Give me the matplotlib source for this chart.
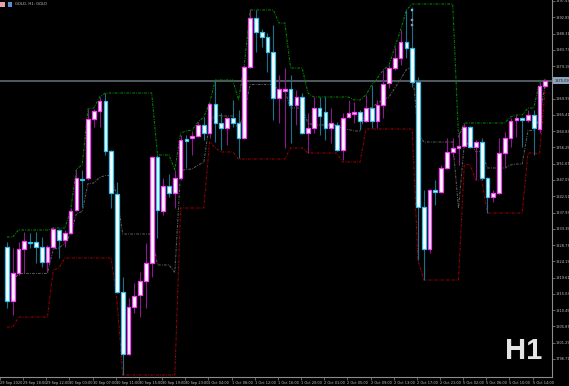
import numpy as np
import matplotlib
matplotlib.use("Agg")
import matplotlib.pyplot as plt
import matplotlib.transforms as mtransforms
from matplotlib.patches import Rectangle

# ---------------- data (GOLD, H1) ----------------
opens = [1828.23, 1813.03, 1820.91, 1827.67, 1829.64, 1829.64, 1828.23, 1824.01, 1828.23, 1833.02,
         1830.20, 1832.17, 1838.65, 1847.37, 1847.65, 1864.26, 1866.51, 1869.32, 1855.25, 1843.15,
         1815.57, 1798.12, 1811.35, 1814.72, 1818.66, 1823.73, 1853.56, 1838.36, 1845.40, 1843.43,
         1847.65, 1858.63, 1858.91, 1859.47, 1862.57, 1860.32, 1868.48, 1863.13, 1861.72, 1864.54,
         1863.13, 1858.91, 1878.89, 1892.68, 1888.74, 1887.34, 1883.11, 1870.17, 1872.14, 1872.70,
         1868.20, 1870.45, 1860.32, 1861.72, 1867.35, 1866.23, 1861.72, 1862.57, 1855.53, 1864.82,
         1865.67, 1866.23, 1863.69, 1867.35, 1863.69, 1868.20, 1874.39, 1878.61, 1881.43, 1885.93,
         1884.24, 1874.67, 1839.49, 1827.67, 1844.28, 1843.71, 1850.47, 1854.97, 1856.10, 1856.66,
         1862.01, 1856.38, 1857.79, 1847.65, 1842.30, 1843.43, 1854.69, 1858.91, 1863.98, 1864.54,
         1863.98, 1865.38, 1861.44, 1873.55]
highs = [1829.64, 1827.95, 1829.64, 1832.45, 1832.17, 1832.45, 1831.05, 1828.79, 1833.86, 1833.30,
         1833.02, 1839.21, 1850.18, 1849.90, 1867.07, 1867.07, 1870.45, 1871.57, 1855.50, 1846.53,
         1819.79, 1813.88, 1818.10, 1821.19, 1829.36, 1853.85, 1854.12, 1847.65, 1848.78, 1849.90,
         1859.75, 1859.75, 1860.88, 1863.41, 1864.82, 1868.76, 1875.23, 1865.95, 1864.82, 1869.61,
         1866.79, 1879.46, 1895.22, 1894.94, 1889.59, 1888.46, 1890.71, 1876.64, 1878.61, 1876.64,
         1872.42, 1871.57, 1865.95, 1870.45, 1870.45, 1870.45, 1867.35, 1863.41, 1865.95, 1869.61,
         1869.04, 1866.79, 1871.01, 1873.83, 1869.61, 1878.05, 1879.46, 1884.52, 1889.31, 1894.94,
         1895.78, 1876.08, 1844.28, 1844.50, 1847.09, 1851.31, 1858.91, 1858.91, 1860.60, 1863.13,
         1862.20, 1858.35, 1858.91, 1847.93, 1844.28, 1858.91, 1860.60, 1864.54, 1865.38, 1864.82,
         1866.79, 1866.79, 1874.67, 1875.52]
lows = [1811.06, 1809.09, 1820.35, 1820.91, 1827.95, 1823.73, 1822.60, 1821.19, 1827.95, 1825.13,
        1828.23, 1832.00, 1838.36, 1839.49, 1847.09, 1862.01, 1862.01, 1854.12, 1839.21, 1815.29,
        1792.21, 1797.84, 1809.66, 1808.53, 1811.06, 1819.79, 1830.77, 1837.24, 1842.30, 1839.21,
        1847.09, 1850.47, 1854.12, 1859.19, 1858.35, 1858.91, 1857.79, 1855.53, 1856.94, 1862.01,
        1853.28, 1858.70, 1878.61, 1883.11, 1884.52, 1877.49, 1863.98, 1863.13, 1856.10, 1857.50,
        1862.57, 1860.00, 1854.69, 1860.32, 1859.75, 1858.35, 1857.50, 1855.30, 1852.72, 1864.54,
        1863.13, 1861.16, 1863.41, 1861.72, 1861.72, 1864.54, 1872.98, 1878.05, 1879.46, 1881.43,
        1873.26, 1824.57, 1818.94, 1826.54, 1840.05, 1843.50, 1850.30, 1853.56, 1851.31, 1856.38,
        1856.10, 1847.09, 1847.09, 1837.80, 1840.90, 1843.20, 1850.47, 1856.38, 1859.19, 1856.38,
        1863.41, 1854.12, 1860.32, 1873.26]
closes = [1813.03, 1820.91, 1827.67, 1829.92, 1829.36, 1828.23, 1824.01, 1828.23, 1833.30, 1830.20,
          1832.17, 1838.36, 1847.65, 1847.09, 1864.26, 1866.51, 1869.32, 1855.25, 1843.43, 1815.57,
          1798.12, 1811.35, 1814.44, 1818.66, 1823.73, 1853.56, 1838.65, 1845.40, 1843.43, 1847.65,
          1858.35, 1858.07, 1859.47, 1862.57, 1860.32, 1868.48, 1863.13, 1861.72, 1864.54, 1863.13,
          1858.91, 1878.89, 1892.68, 1888.74, 1887.34, 1883.11, 1870.17, 1872.70, 1872.70, 1868.20,
          1870.45, 1860.32, 1861.72, 1867.35, 1865.10, 1861.72, 1863.13, 1855.53, 1864.54, 1865.95,
          1866.23, 1863.69, 1867.35, 1863.69, 1868.20, 1874.11, 1878.61, 1881.43, 1885.93, 1884.24,
          1874.67, 1839.49, 1827.67, 1844.28, 1843.71, 1850.47, 1854.97, 1856.10, 1856.66, 1862.01,
          1856.38, 1857.79, 1847.65, 1842.30, 1843.43, 1854.69, 1858.91, 1863.69, 1864.54, 1863.98,
          1865.38, 1861.72, 1873.55, 1875.09]

# price channel (upper / lower / middle)
upper = [1831.05, 1831.05, 1833.02, 1833.02, 1833.02, 1833.02, 1833.02, 1833.02, 1833.58, 1833.58,
         1833.58, 1838.65, 1850.18, 1851.31, 1867.07, 1867.35, 1870.45, 1871.57, 1871.57, 1871.57,
         1871.57, 1871.57, 1871.57, 1871.57, 1871.57, 1871.57, 1854.12, 1854.12, 1854.12, 1849.90,
         1860.32, 1860.88, 1861.16, 1863.41, 1864.82, 1868.76, 1875.23, 1875.23, 1875.23, 1875.23,
         1869.61, 1879.46, 1894.94, 1894.94, 1894.94, 1894.94, 1894.94, 1891.28, 1891.28, 1878.61,
         1878.61, 1878.61, 1871.57, 1870.45, 1870.45, 1870.45, 1870.45, 1870.45, 1870.45, 1870.45,
         1869.61, 1869.61, 1871.01, 1873.83, 1875.80, 1878.05, 1879.46, 1884.52, 1889.31, 1894.94,
         1896.62, 1896.62, 1896.62, 1896.62, 1896.62, 1896.62, 1896.62, 1896.62, 1859.19, 1863.13,
         1863.13, 1863.13, 1863.13, 1863.13, 1863.13, 1863.13, 1863.13, 1864.82, 1865.38, 1865.38,
         1867.35, 1867.35, 1874.67, 1875.52]
lower = [1805.72, 1805.72, 1808.53, 1808.53, 1808.53, 1808.53, 1808.53, 1808.53, 1821.76, 1822.32,
         1825.13, 1825.13, 1825.13, 1825.13, 1825.13, 1825.13, 1825.13, 1825.13, 1825.13, 1813.32,
         1792.21, 1792.21, 1792.21, 1792.21, 1792.21, 1792.21, 1792.21, 1792.21, 1792.21, 1792.21,
         1839.21, 1839.21, 1839.21, 1839.21, 1839.21, 1857.79, 1856.10, 1854.97, 1854.97, 1854.97,
         1853.00, 1853.00, 1853.00, 1853.00, 1853.00, 1853.00, 1853.00, 1853.00, 1853.00, 1856.10,
         1856.10, 1856.10, 1854.69, 1854.69, 1854.69, 1854.69, 1854.69, 1854.69, 1852.15, 1852.15,
         1852.15, 1852.15, 1861.44, 1861.44, 1861.44, 1861.44, 1861.44, 1861.44, 1861.44, 1861.44,
         1861.44, 1824.57, 1818.94, 1818.94, 1818.94, 1818.94, 1818.94, 1818.94, 1818.94, 1851.59,
         1851.31, 1847.09, 1847.09, 1837.80, 1837.80, 1837.80, 1837.80, 1837.80, 1837.80, 1837.80,
         1854.69, 1854.69, 1854.41, 1873.26]
middle = [1818.39, 1818.39, 1820.78, 1820.78, 1820.78, 1820.78, 1820.78, 1820.78, 1827.67, 1827.95,
          1829.36, 1831.89, 1837.66, 1838.22, 1846.10, 1846.24, 1847.79, 1848.35, 1848.35, 1842.45,
          1831.89, 1831.89, 1831.89, 1831.89, 1831.89, 1831.89, 1823.17, 1823.17, 1823.17, 1821.06,
          1849.77, 1850.05, 1850.19, 1851.31, 1852.02, 1863.28, 1865.67, 1865.10, 1865.10, 1865.10,
          1861.31, 1866.23, 1873.97, 1873.97, 1873.97, 1873.97, 1873.97, 1872.14, 1872.14, 1867.36,
          1867.36, 1867.36, 1863.13, 1862.57, 1862.57, 1862.57, 1862.57, 1862.57, 1861.30, 1861.30,
          1860.88, 1860.88, 1866.23, 1867.64, 1868.62, 1869.75, 1870.45, 1872.98, 1875.38, 1878.19,
          1879.03, 1860.60, 1857.78, 1857.78, 1857.78, 1857.78, 1857.78, 1857.78, 1839.07, 1857.36,
          1857.22, 1855.11, 1855.11, 1850.47, 1850.47, 1850.47, 1850.47, 1851.31, 1851.59, 1851.59,
          1861.02, 1861.02, 1864.54, 1874.39]

time_label_bars = [-1, 3, 7, 11, 15, 19, 23, 27, 31, 35, 39, 43, 47, 51, 55, 59, 63, 67, 71, 75, 79, 83, 87, 91]
time_labels = ["29 Sep 2020", "29 Sep 18:00", "29 Sep 22:00", "30 Sep 03:00", "30 Sep 07:00",
               "30 Sep 11:00", "30 Sep 15:00", "30 Sep 19:00", "30 Sep 23:00", "1 Oct 04:00",
               "1 Oct 08:00", "1 Oct 12:00", "1 Oct 16:00", "1 Oct 20:00", "2 Oct 01:00",
               "2 Oct 05:00", "2 Oct 09:00", "2 Oct 13:00", "2 Oct 17:00", "2 Oct 21:00",
               "5 Oct 02:00", "5 Oct 06:00", "5 Oct 10:00", "5 Oct 14:00"]
price_ticks = [1897.47, 1892.89, 1888.31, 1883.73, 1879.15, 1874.57, 1869.99, 1865.41, 1860.83,
               1856.25, 1851.67, 1847.09, 1842.51, 1837.93, 1833.35, 1828.77, 1824.19, 1819.61,
               1815.03, 1810.45, 1805.87, 1801.29, 1796.71]
signal_bars = [70, 70, 70]
signal_prices = [1894.90, 1892.10, 1890.70]

# ---------------- figure ----------------
W, H = 569, 386
fig = plt.figure(figsize=(W / 100, H / 100), dpi=100, facecolor="black")
ax = fig.add_axes([0, 9 / H, 552 / W, 377 / H], facecolor="black")

o = np.array(opens); h = np.array(highs); l = np.array(lows); c = np.array(closes)
x = np.arange(len(o))
bull = c >= o
bear = ~bull

# bid line
ax.axhline(closes[-1], color="#596069", lw=1.3, zorder=1)

# channel
dash = (0, (2.5, 1.2, 0.8, 1.2))
ax.plot(x, upper, color="#008a00", lw=0.75, ls=dash, zorder=2)
ax.plot(x, lower, color="#a00000", lw=0.75, ls=dash, zorder=2)
ax.plot(x, middle, color="#5c5c5c", lw=0.75, ls=dash, zorder=2)

# wicks
ax.vlines(x[bull], l[bull], h[bull], colors="#8a1a8e", lw=0.8, zorder=3)
ax.vlines(x[bear], l[bear], h[bear], colors="#1c6f8f", lw=0.8, zorder=3)

# bodies
bot = np.minimum(o, c)
hgt = np.maximum(np.abs(c - o), 0.05)
ax.bar(x[bull], hgt[bull], bottom=bot[bull], width=0.64, color="white",
       edgecolor="#ff3cff", linewidth=0.9, zorder=4)
ax.bar(x[bear], hgt[bear], bottom=bot[bear], width=0.64, color="white",
       edgecolor="#35c2ea", linewidth=0.9, zorder=4)

# trade signal marks
ax.scatter(signal_bars, signal_prices, s=3.5, marker="s",
           c=["#b9d6f2", "#e8907e", "#e8907e"], edgecolors="#4a86c8", linewidths=0.3, zorder=6)

# limits: bar i at pixel 4.3 + 5.817*i ; price p at pixel (1897.75 - p)/0.28145
ax.set_xlim(-0.74, 94.15)
ax.set_ylim(1791.64, 1897.75)

# axes styling
for s in ["top", "left"]:
    ax.spines[s].set_visible(False)
for s in ["right", "bottom"]:
    ax.spines[s].set_color("#8c8c8c")
    ax.spines[s].set_linewidth(0.8)

ax.yaxis.tick_right()
ax.set_yticks(price_ticks)
# the label hidden under the current-price box is left blank
ax.set_yticklabels(["" if abs(v - closes[-1]) < 2.0 else f"{v:.2f}" for v in price_ticks])
ax.set_xticks(np.array(time_label_bars) - 0.2)
ax.set_xticklabels(time_labels)
for lbl in ax.get_xticklabels():
    lbl.set_horizontalalignment("left")
ax.tick_params(axis="both", colors="#8c8c8c", labelcolor="#c4c4c4", labelsize=2.5,
               length=2, width=0.5, pad=0.8)

# current price box
trans = mtransforms.blended_transform_factory(ax.transAxes, ax.transData)
ax.text(1.004, closes[-1], f"{closes[-1]:.2f}", transform=trans, fontsize=2.5,
        color="#101820", va="center", ha="left", clip_on=False, zorder=10,
        bbox=dict(boxstyle="square,pad=0.35", fc="#8ea3ba", ec="none"))

# header
fig.patches.append(Rectangle((0, 1 - 7 / H), 5 / W, 5 / H, transform=fig.transFigure,
                             fc="#e5a0a8", ec="none"))
fig.patches.append(Rectangle((8 / W, 1 - 7 / H), 4 / W, 5 / H, transform=fig.transFigure,
                             fc="#5a8fd0", ec="none"))
fig.text(15 / W, 1 - 4.3 / H, "GOLD, H1: GOLD", fontsize=2.7, color="#c8c8c8",
         va="center", ha="left")

# timeframe watermark
fig.text(505 / W, 1 - 359 / H, "H1", fontsize=21, fontweight="bold",
         family="Liberation Sans", color="#e4e4e4", ha="left", va="baseline")

fig.savefig("out.png", dpi=100, facecolor="black")
